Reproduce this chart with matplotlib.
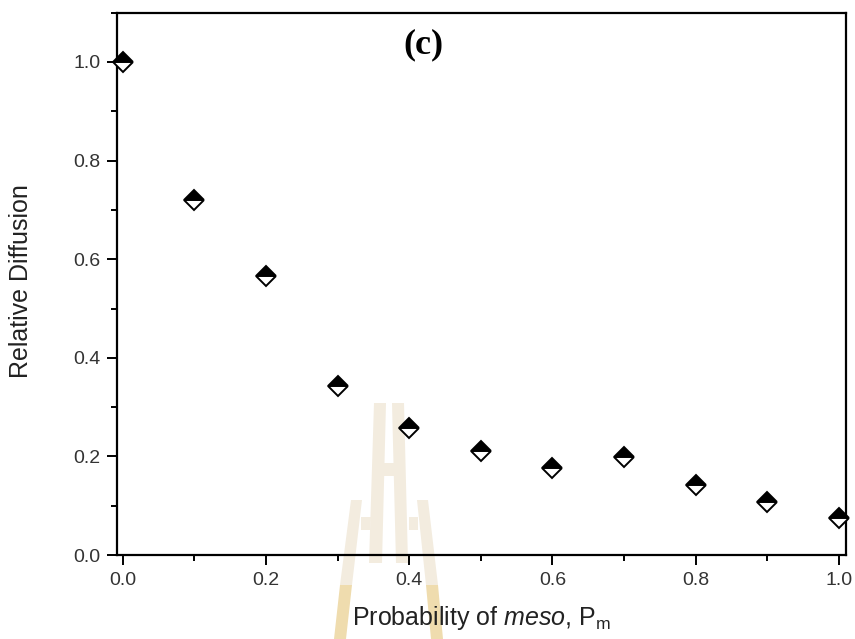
import numpy as np
import matplotlib
matplotlib.use("Agg")
import matplotlib.pyplot as plt
from matplotlib.patches import Polygon
from matplotlib.ticker import MultipleLocator, FormatStrFormatter

plt.rcParams['font.family'] = ['Liberation Sans', 'DejaVu Sans']
plt.rcParams['mathtext.fontset'] = 'custom'
plt.rcParams['mathtext.rm'] = 'Liberation Sans'
plt.rcParams['mathtext.it'] = 'Liberation Sans:italic'

# probability of meso vs relative diffusion
p_meso = [0.0, 0.1, 0.2, 0.3, 0.4, 0.5, 0.6, 0.7, 0.8, 0.9, 1.0]
rel_diff = [1.0, 0.721, 0.565, 0.343, 0.257, 0.211, 0.177, 0.198, 0.142, 0.108, 0.075]

W, H = 855, 639
fig = plt.figure(figsize=(W / 100, H / 100), dpi=100)
ax = fig.add_axes([117 / W, 1 - 555 / H, (846 - 117) / W, (555 - 12.7) / H])
ax.set_facecolor('none')

# faint background logo, pixel outlines of its pillars
def px_poly(pts, color):
    xy = [(x / W, 1 - y / H) for x, y in pts]
    fig.patches.append(Polygon(xy, closed=True, transform=fig.transFigure,
                               facecolor=color, edgecolor='none', zorder=-5))

beige = '#f3ecdf'
gold = '#efdcae'
px_poly([(374, 403), (386, 403), (382, 563), (369, 563)], beige)
px_poly([(392, 403), (404, 403), (408, 563), (396, 563)], beige)
px_poly([(380, 463), (398, 463), (398, 476), (380, 476)], beige)
px_poly([(361, 517), (371, 517), (370, 530), (361, 530)], beige)
px_poly([(409, 517), (418, 517), (418, 530), (409, 530)], beige)
px_poly([(351, 500), (362, 500), (352, 585), (340, 585)], beige)
px_poly([(417, 500), (428, 500), (438, 585), (426, 585)], beige)
px_poly([(340, 585), (352, 585), (346, 639), (334, 639)], gold)
px_poly([(426, 585), (438, 585), (443, 639), (431, 639)], gold)

ax.plot(p_meso, rel_diff, linestyle='none', marker='D', markersize=10.5,
        fillstyle='top', markerfacecolor='black', markerfacecoloralt='white',
        markeredgecolor='black', markeredgewidth=1.4, clip_on=False, zorder=3)

ax.set_xlim(-0.008, 1.01)
ax.set_ylim(0, 1.1)
ax.xaxis.set_major_locator(MultipleLocator(0.2))
ax.xaxis.set_minor_locator(MultipleLocator(0.1))
ax.yaxis.set_major_locator(MultipleLocator(0.2))
ax.yaxis.set_minor_locator(MultipleLocator(0.1))
ax.xaxis.set_major_formatter(FormatStrFormatter('%.1f'))
ax.yaxis.set_major_formatter(FormatStrFormatter('%.1f'))

for s in ax.spines.values():
    s.set_linewidth(1.6)
ax.tick_params(which='major', direction='out', length=7, width=1.4,
               labelsize=14, pad=5, colors='black')
ax.tick_params(which='minor', direction='out', length=4, width=1.4)
ax.tick_params(top=False, right=False, which='both')
for lab in ax.get_xticklabels() + ax.get_yticklabels():
    lab.set_color('#333333')

ax.set_xlabel(r'Probability of $\mathit{meso}$, P$_\mathrm{m}$',
              fontsize=18, color='#222222', labelpad=11)
ax.set_ylabel('Relative Diffusion', fontsize=18, color='#222222')
ax.yaxis.set_label_coords(-0.115, 0.505)

ax.text(0.42, 1.035, '(c)', fontsize=26, fontweight='bold',
        family='Liberation Serif', ha='center', va='center')

fig.savefig('out.png', dpi=100)
